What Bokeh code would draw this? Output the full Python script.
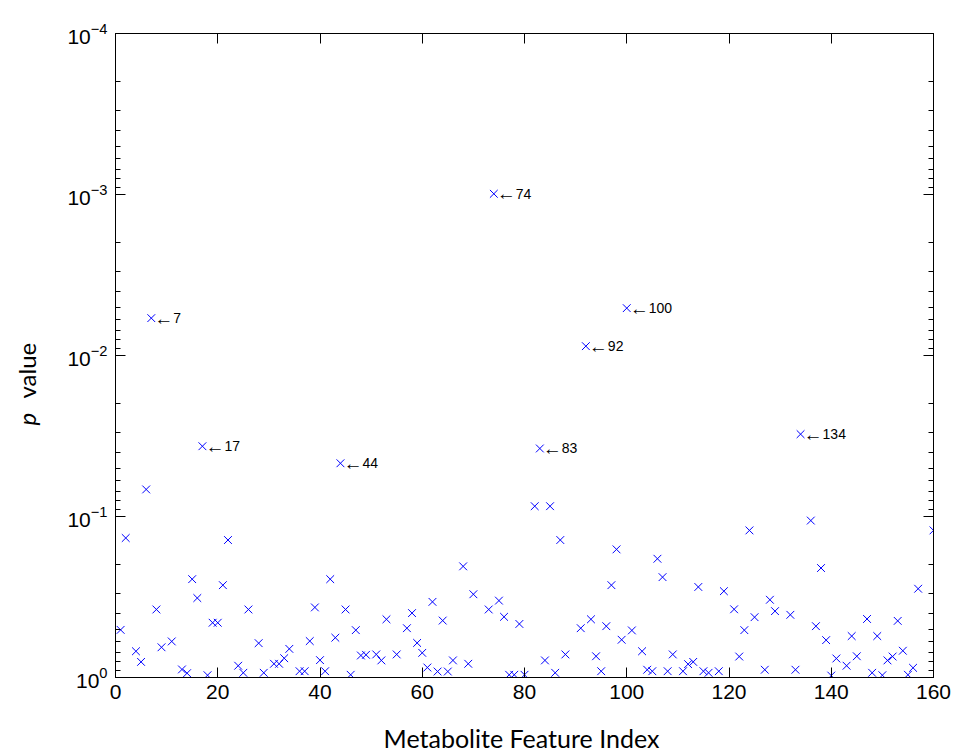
import math
from bokeh.plotting import figure
from bokeh.layouts import row, column
from bokeh.models import (Range1d, FixedTicker, LinearAxis, LogAxis,
                          CustomJSTickFormatter)
from bokeh.core.properties import value
from bokeh.embed import file_html
from bokeh.resources import INLINE

# ---------------- data ----------------
idx = [1, 2, 4, 5, 6, 7, 8, 9, 11, 13,
       14, 15, 16, 17, 18, 19, 20, 21, 22, 24,
       25, 26, 28, 29, 31, 32, 33, 34, 36, 37,
       38, 39, 40, 41, 42, 43, 44, 45, 46, 47,
       48, 49, 51, 52, 53, 55, 57, 58, 59, 60,
       61, 62, 63, 64, 65, 66, 68, 69, 70, 73,
       74, 75, 76, 77, 78, 79, 80, 82, 83, 84,
       85, 86, 87, 88, 91, 92, 93, 94, 95, 96,
       97, 98, 99, 100, 101, 103, 104, 105, 106, 107,
       108, 109, 111, 112, 113, 114, 115, 116, 118, 119,
       121, 122, 123, 124, 125, 127, 128, 129, 132, 133,
       134, 136, 137, 138, 139, 140, 141, 143, 144, 145,
       147, 148, 149, 150, 151, 152, 153, 154, 155, 156,
       157, 160]
pvals = [0.506, 0.136, 0.687, 0.800, 0.0679, 0.00586, 0.378, 0.649, 0.597, 0.891,
         0.940, 0.245, 0.321, 0.0366, 0.968, 0.457, 0.457, 0.267, 0.140, 0.845,
         0.935, 0.378, 0.612, 0.935, 0.822, 0.822, 0.759, 0.664, 0.914, 0.914,
         0.594, 0.367, 0.780, 0.914, 0.245, 0.566, 0.0467, 0.378, 0.962, 0.508,
         0.730, 0.723, 0.719, 0.783, 0.435, 0.719, 0.494, 0.398, 0.610, 0.703,
         0.867, 0.339, 0.918, 0.443, 0.918, 0.783, 0.204, 0.822, 0.304, 0.378,
         0.00099, 0.333, 0.420, 0.962, 0.962, 0.465, 0.962, 0.0863, 0.0378, 0.783,
         0.0863, 0.935, 0.140, 0.719, 0.494, 0.00875, 0.435, 0.738, 0.914, 0.480,
         0.267, 0.160, 0.583, 0.00508, 0.510, 0.687, 0.895, 0.914, 0.183, 0.238,
         0.914, 0.719, 0.914, 0.826, 0.800, 0.274, 0.914, 0.935, 0.914, 0.291,
         0.377, 0.741, 0.508, 0.122, 0.422, 0.895, 0.329, 0.387, 0.408, 0.895,
         0.0308, 0.106, 0.480, 0.209, 0.586, 0.973, 0.762, 0.845, 0.553, 0.738,
         0.433, 0.935, 0.553, 0.968, 0.783, 0.741, 0.445, 0.682, 0.962, 0.871,
         0.281, 0.122]
label_idx = [7, 17, 44, 74, 83, 92, 100, 134]

x_ticks = [0, 20, 40, 60, 80, 100, 120, 140, 160]
y_ticks = [1, 1e-1, 1e-2, 1e-3, 1e-4]
x_title = "Metabolite Feature Index"
y_title_italic = "p"
y_title_rest = "value"

TICK_FONT = "Liberation Sans"
TITLE_FONT = "Lato"
W = 956
H = 753
LEFT_W = 50          # strip holding the y title
BOT_H = 40           # strip holding the x title
FRAME_TOP = 33
FRAME_BOTTOM = 677   # in page pixels

# ---------------- left strip: y title (page-pixel coordinates) ----------------
left = figure(width=LEFT_W, height=H - BOT_H, x_range=Range1d(0, LEFT_W),
              y_range=Range1d(H - FRAME_BOTTOM, H - FRAME_TOP),
              output_backend="svg", toolbar_location=None, min_border=0,
              x_axis_location=None, y_axis_location=None)
left.outline_line_color = None
left.xgrid.grid_line_color = None
left.ygrid.grid_line_color = None
left.text(x=[26], y=[H - 425], text=[y_title_italic], angle=math.pi / 2,
          text_font=value(TITLE_FONT), text_font_size="24px",
          text_font_style=value("italic"), text_align="left",
          text_baseline="alphabetic", text_color="black")
left.text(x=[26], y=[H - 398], text=[y_title_rest], angle=math.pi / 2,
          text_font=value(TITLE_FONT), text_font_size="24px",
          text_align="left", text_baseline="alphabetic", text_color="black")

# ---------------- main figure ----------------
p = figure(width=W - LEFT_W, height=H - BOT_H,
           x_range=Range1d(0, 160), y_range=Range1d(1, 1e-4),
           y_axis_type="log", output_backend="svg", toolbar_location=None,
           min_border_left=115 - LEFT_W, min_border_right=23,
           min_border_top=FRAME_TOP,
           min_border_bottom=(H - BOT_H) - FRAME_BOTTOM)
p.background_fill_color = "white"
p.border_fill_color = "white"
p.outline_line_color = "black"
p.outline_line_width = 1
p.xgrid.grid_line_color = None
p.ygrid.grid_line_color = None

blank = CustomJSTickFormatter(code="return ''")
minor_y = [m * 10.0 ** e for e in range(-4, 0) for m in range(2, 10)]


def style(ax, xaxis):
    ax.axis_line_color = "black"
    ax.major_tick_line_color = "black"
    ax.major_tick_in = 10
    ax.major_tick_out = 0
    if xaxis:
        ax.minor_tick_line_color = None
    else:
        ax.minor_tick_line_color = "black"
        ax.minor_tick_in = 5
        ax.minor_tick_out = 0


# bottom x axis
xa = p.xaxis[0]
xa.ticker = FixedTicker(ticks=x_ticks)
style(xa, True)
xa.major_label_text_font = TICK_FONT
xa.major_label_text_font_size = "21px"
xa.major_label_text_color = "black"
xa.major_label_standoff = 7

# top x axis
xt = LinearAxis(ticker=FixedTicker(ticks=x_ticks), formatter=blank,
                major_label_standoff=0)
style(xt, True)
p.add_layout(xt, "above")

# left y axis (log labels 10^k drawn by bokeh)
ya = p.yaxis[0]
ya.ticker = FixedTicker(ticks=y_ticks, minor_ticks=minor_y)
ya.major_label_text_font = TICK_FONT
ya.major_label_text_font_size = "21px"
ya.major_label_text_color = "black"
ya.major_label_standoff = 8
style(ya, False)

# right y axis
yr = LogAxis(ticker=FixedTicker(ticks=y_ticks, minor_ticks=minor_y),
             formatter=blank, major_label_standoff=0)
style(yr, False)
p.add_layout(yr, "right")

# markers
p.scatter(idx, pvals, marker="x", size=11, line_color="#0000ff", line_width=1)

# annotations: arrow + index
lookup = dict(zip(idx, pvals))
ann_x = label_idx
ann_y = [lookup[i] for i in label_idx]
p.text(x=ann_x, y=ann_y, text=["\u2190"] * len(label_idx), x_offset=3,
       text_font=value(TICK_FONT), text_font_size="19px",
       text_baseline="middle", text_align="left", text_color="black")
p.text(x=ann_x, y=ann_y, text=[str(i) for i in label_idx], x_offset=22,
       text_font=value(TICK_FONT), text_font_size="14px",
       text_baseline="middle", text_align="left", text_color="black")

# ---------------- bottom strip: x title ----------------
bottom = figure(width=W, height=BOT_H, x_range=Range1d(0, W),
                y_range=Range1d(0, BOT_H), output_backend="svg",
                toolbar_location=None, min_border=0,
                x_axis_location=None, y_axis_location=None)
bottom.outline_line_color = None
bottom.xgrid.grid_line_color = None
bottom.ygrid.grid_line_color = None
bottom.text(x=[521], y=[16], text=[x_title],
            text_font=value(TITLE_FONT), text_font_size="25px",
            text_align="center", text_baseline="middle",
            text_color="black")

layout = column(row(left, p), bottom)
open("out.html", "w").write(file_html(layout, INLINE))
